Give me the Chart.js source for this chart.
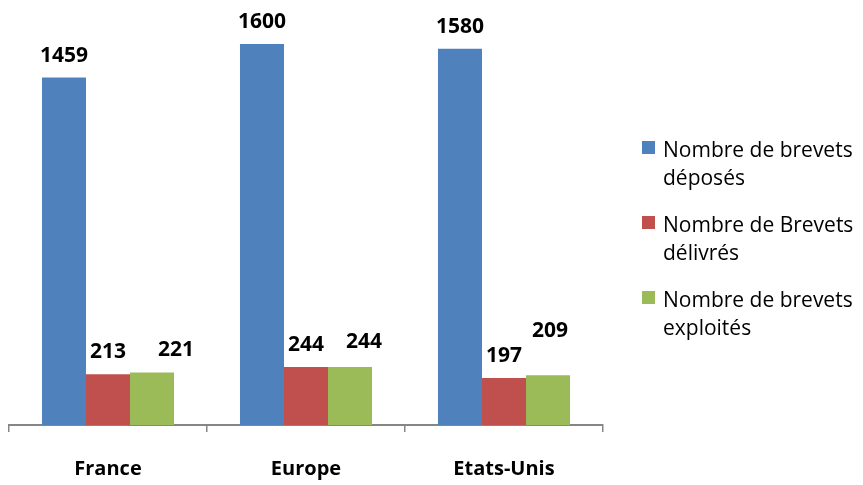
<!DOCTYPE html>
<html>
<head>
<meta charset="utf-8">
<script src="https://cdn.jsdelivr.net/npm/chart.js@4.4.0/dist/chart.umd.min.js"></script>
<style>
  html, body { margin: 0; padding: 0; background: #fff; }
  #wrap { width: 863px; height: 485px; }
</style>
</head>
<body>
<div id="wrap"><canvas id="myChart" width="863" height="485"></canvas></div>
<script>
// categories and series
const regions = ['France', 'Europe', 'Etats-Unis']
const seriesNames = ['Nombre de brevets déposés', 'Nombre de Brevets délivrés', 'Nombre de brevets exploités']
const deposes = [1459, 1600, 1580]
const delivres = [213, 244, 197]
const exploites = [221, 244, 209]
const colors = ['#4F81BD', '#C0504D', '#9BBB59']

const FONT = "'Open Sans', 'DejaVu Sans', sans-serif"

// a few value labels were dragged aside by hand, shift them the same way
const labelShift = {
    '2-0': [24, 0],
    '2-1': [14, -3],
    '2-2': [2, -22]
}

// value labels above each bar
const barLabels = {
    id: 'barLabels',
    afterDatasetsDraw(chart) {
        const ctx = chart.ctx
        ctx.save()
        ctx.font = 'bold 21px ' + FONT
        ctx.fillStyle = '#000'
        ctx.textAlign = 'center'
        ctx.textBaseline = 'alphabetic'
        chart.data.datasets.forEach(function (ds, i) {
            chart.getDatasetMeta(i).data.forEach(function (bar, j) {
                const s = labelShift[i + '-' + j] || [0, 0]
                ctx.fillText(ds.data[j], bar.x + s[0], bar.y - 16 + s[1])
            })
        })
        ctx.restore()
    }
}

// legend on the right, names wrapped onto two lines
const sideLegend = {
    id: 'sideLegend',
    afterDraw(chart) {
        const ctx = chart.ctx
        ctx.save()
        ctx.font = '21px ' + FONT
        ctx.textBaseline = 'alphabetic'
        let y = 157
        chart.data.datasets.forEach(function (ds) {
            ctx.fillStyle = ds.backgroundColor
            ctx.fillRect(642, y - 16, 13, 13)
            ctx.fillStyle = '#000'
            // break line before the last two words
            const words = ds.label.split(' ')
            const lines = [words.slice(0, 3).join(' '), words.slice(3).join(' ')]
            lines.forEach(function (ln, k) {
                ctx.fillText(ln, 663, y + k * 28)
            })
            y += 75
        })
        ctx.restore()
    }
}

const ctx = document.getElementById('myChart')
let myChart = new Chart(ctx, {
    type: 'bar',
    data: {
        labels: regions,
        datasets: [
            { label: seriesNames[0], data: deposes, backgroundColor: colors[0] },
            { label: seriesNames[1], data: delivres, backgroundColor: colors[1] },
            { label: seriesNames[2], data: exploites, backgroundColor: colors[2] }
        ]
    },
    options: {
        responsive: false,
        animation: false,
        layout: { padding: { left: 9, right: 260, top: 0, bottom: -21 } },
        datasets: {
            bar: {
                categoryPercentage: 0.667,
                barPercentage: 1,
                borderWidth: 0
            }
        },
        plugins: {
            legend: { display: false },
            tooltip: { enabled: false }
        },
        scales: {
            x: {
                grid: {
                    drawOnChartArea: false,
                    drawTicks: true,
                    tickLength: 7,
                    color: '#868686',
                    lineWidth: 1.5
                },
                border: { display: true, color: '#868686', width: 2 },
                ticks: {
                    color: '#000',
                    padding: 25,
                    font: { family: FONT, size: 20, weight: 'bold' }
                }
            },
            y: {
                display: false,
                min: 0,
                max: 1785
            }
        }
    },
    plugins: [barLabels, sideLegend]
})
</script>
</body>
</html>
